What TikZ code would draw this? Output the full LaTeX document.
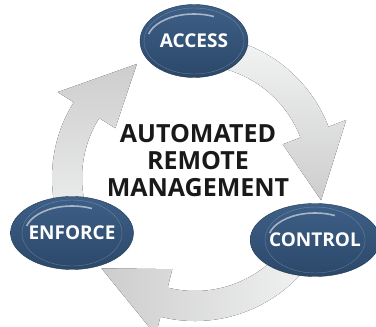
\documentclass[tikz,border=0pt]{standalone}
\usepackage{fontspec}
\setmainfont{Open Sans}
\usetikzlibrary{shapes.geometric,positioning,calc}
\definecolor{ovalblue}{HTML}{3E5F87}
\definecolor{ovaldark}{HTML}{2B4869}
\definecolor{ringlight}{HTML}{F3F4F4}
\definecolor{ringdark}{HTML}{CDCDCD}
\tikzset{
  oval/.style={ellipse, minimum width=108pt, minimum height=73pt, inner sep=0pt,
    top color=ovalblue, bottom color=ovaldark, draw=ovaldark!80!black, line width=.4pt,
    text=white, font=\bfseries\fontsize{19}{19}\selectfont},
  gloss/.style={white, opacity=.55, line width=1.6pt},
  rim/.style={white, opacity=.25, line width=.4pt},
}

\begin{document}
\begin{tikzpicture}[x=1pt,y=1pt]
  \useasboundingbox (0,0) rectangle (376,327);
  \clip (0,0) rectangle (376,327);
  \coordinate (hub) at (195,149);

  % the three curved arrows of the cycle
  \begin{scope}[shift={(hub)}]
    \fill[top color=ringlight, bottom color=ringdark]
      (80:143) arc[start angle=80, end angle=21, radius=143] -- (21:162) -- (-10:128)
      -- (21:94) -- (21:113) arc[start angle=21, end angle=80, radius=113] -- cycle;
    \fill[left color=ringdark, right color=ringlight]
      (-25:143) arc[start angle=-25, end angle=-104, radius=143] -- (-104:162) -- (-136:130)
      -- (-104:94) -- (-104:113) arc[start angle=-104, end angle=-25, radius=113] -- cycle;
    \fill[top color=ringdark, bottom color=ringlight]
      (210:143) arc[start angle=210, end angle=148, radius=143] -- (148:162) -- (117:128)
      -- (148:94) -- (148:113) arc[start angle=148, end angle=210, radius=113] -- cycle;
  \end{scope}

  \node[oval] (access) at (194,286) {ACCESS};
  \node[oval] (control) at (315,87) {CONTROL};
  \node[oval] (enforce) at (72,94) {ENFORCE};

  \foreach \n in {access,control,enforce} {
    \draw[gloss] ($(\n.center)+(165:47 and 27)$) arc[start angle=165, end angle=65, x radius=47, y radius=27];
    \draw[rim] (\n.center) ellipse (50 and 33);
  }

  \node[align=center, text=black!90, font=\bfseries\fontsize{25}{27}\selectfont] (title) at (198,166)
    {AUTOMATED\\REMOTE\\MANAGEMENT};
\end{tikzpicture}
\end{document}
